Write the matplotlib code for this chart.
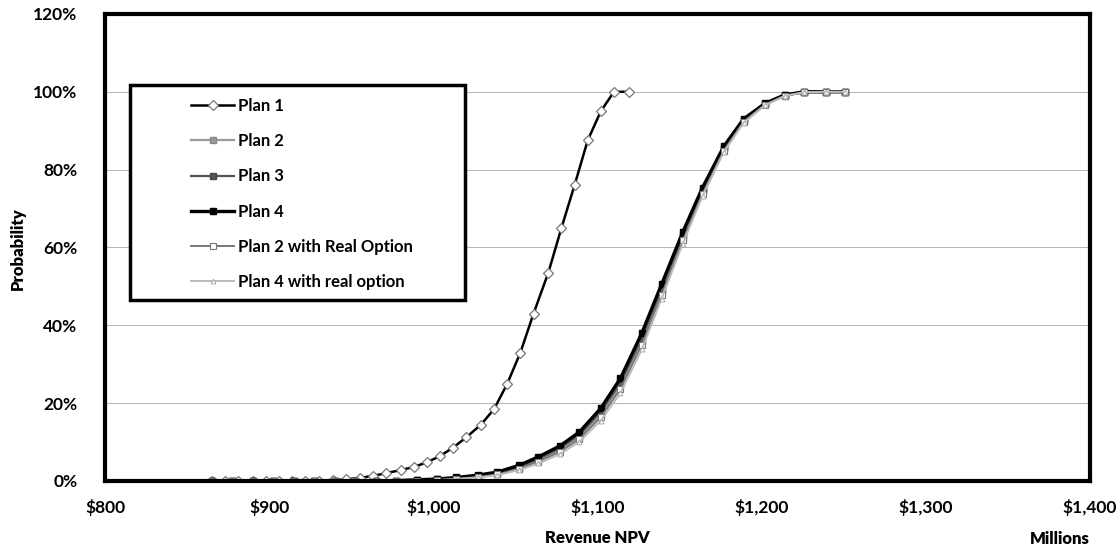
import matplotlib.pyplot as plt
from matplotlib.patches import Rectangle
from matplotlib.ticker import FuncFormatter, MultipleLocator

plt.rcParams['font.family'] = ['Lato', 'DejaVu Sans']

# Revenue NPV ($ millions) and cumulative probability (%)
plan1_x = [865, 873, 881, 890, 898, 906, 914, 922, 930, 939, 947, 955, 963, 971, 980,
           988, 996, 1004, 1012, 1020, 1029, 1037, 1045, 1053, 1061, 1070, 1078, 1086,
           1094, 1102, 1110, 1119]
plan1_y = [0, 0, 0, 0, 0, 0, 0, 0, 0.1, 0.2, 0.4, 0.8, 1.3, 2.0, 2.8, 3.6, 4.8, 6.4,
           8.6, 11.2, 14.5, 18.5, 25.0, 33.0, 43.0, 53.5, 65.0, 76.0, 87.5, 95.0, 100, 100]

plan_x = [865, 877, 890, 902, 915, 927, 940, 952, 965, 977, 990, 1002, 1014, 1027,
          1039, 1052, 1064, 1077, 1089, 1102, 1114, 1127, 1139, 1152, 1164, 1177,
          1189, 1202, 1214, 1226, 1239, 1251]
plan2_y = [0, 0, 0, 0, 0, 0, 0, 0, 0, 0.1, 0.2, 0.4, 0.7, 1.2, 1.9, 3.4, 5.4, 8.0,
           11.4, 17.2, 24.6, 36.0, 48.6, 62.5, 74.3, 85.2, 92.5, 96.8, 99.0, 99.9, 100, 100]
plan3_y = [0, 0, 0, 0, 0, 0, 0, 0, 0, 0.1, 0.2, 0.4, 0.8, 1.3, 2.0, 3.6, 5.7, 8.4,
           11.9, 17.8, 25.3, 36.8, 49.4, 63.2, 74.8, 85.6, 92.7, 96.9, 99.1, 100, 100, 100]
plan4_y = [0, 0, 0, 0, 0, 0, 0, 0, 0, 0.1, 0.3, 0.5, 0.9, 1.5, 2.3, 4.0, 6.2, 9.0,
           12.6, 18.7, 26.4, 38.0, 50.5, 64.0, 75.4, 86.0, 93.0, 97.0, 99.2, 100, 100, 100]
plan2_ro_y = [0, 0, 0, 0, 0, 0, 0, 0, 0, 0, 0.1, 0.3, 0.6, 1.0, 1.7, 3.1, 5.0, 7.5,
              10.8, 16.4, 23.7, 35.0, 47.8, 61.8, 73.8, 84.9, 92.3, 96.7, 99.0, 99.9, 100, 100]
plan4_ro_y = [0, 0, 0, 0, 0, 0, 0, 0, 0, 0, 0.1, 0.2, 0.5, 0.9, 1.5, 2.8, 4.5, 6.9,
              10.1, 15.5, 22.6, 33.8, 46.8, 61.0, 73.2, 84.5, 92.0, 96.5, 98.9, 99.9, 100, 100]

fig = plt.figure(figsize=(11.2, 5.58), dpi=100)
ax = fig.add_axes([0.094, 0.138, 0.879, 0.837])

ax.plot(plan1_x, plan1_y, color='black', lw=1.8, marker='D', ms=5,
        mfc='white', mec='#777777', mew=0.9, label='Plan 1')
ax.plot(plan_x, plan2_y, color='#999999', lw=1.6, marker='s', ms=4.5,
        mfc='#999999', mec='#888888', label='Plan 2')
ax.plot(plan_x, plan3_y, color='#555555', lw=1.6, marker='s', ms=4.5,
        mfc='#555555', mec='#444444', label='Plan 3')
ax.plot(plan_x, plan4_y, color='black', lw=2.4, marker='s', ms=5,
        mfc='black', mec='black', label='Plan 4')
ax.plot(plan_x, plan2_ro_y, color='#777777', lw=1.4, marker='s', ms=4.5,
        mfc='white', mec='#777777', mew=0.8, label='Plan 2 with Real Option')
ax.plot(plan_x, plan4_ro_y, color='#bbbbbb', lw=1.4, marker='^', ms=3.5,
        mfc='white', mec='#aaaaaa', mew=0.7, label='Plan 4 with real option')

ax.set_xlim(800, 1400)
ax.set_ylim(0, 120)
ax.xaxis.set_major_locator(MultipleLocator(100))
ax.yaxis.set_major_locator(MultipleLocator(20))
ax.xaxis.set_major_formatter(FuncFormatter(lambda v, p: f'${v:,.0f}'))
ax.yaxis.set_major_formatter(FuncFormatter(lambda v, p: f'{v:.0f}%'))
ax.tick_params(length=0, labelsize=12.5)
ax.tick_params(axis='x', pad=13)
ax.tick_params(axis='y', pad=20)
for lab in ax.get_xticklabels() + ax.get_yticklabels():
    lab.set_fontweight('bold')

ax.grid(axis='y', color='#b5b5b5', lw=0.7)
ax.set_axisbelow(True)
for s in ax.spines.values():
    s.set_linewidth(3)
    s.set_color('black')

ax.set_xlabel('Revenue NPV', fontsize=12, fontweight='heavy', labelpad=10)
fig.text(0.016, 0.555, 'Probability', fontsize=12, fontweight='heavy',
         rotation=90, ha='center', va='center')
fig.text(0.946, 0.025, 'Millions', fontsize=12, fontweight='heavy', ha='center')

# legend box with heavy border, drawn separately so it can be wider than the entries
box = Rectangle((0.025, 0.388), 0.34, 0.46, transform=ax.transAxes,
                facecolor='white', edgecolor='black', lw=2.5, zorder=5)
ax.add_patch(box)
leg = ax.legend(loc='upper left', bbox_to_anchor=(0.087, 0.82), frameon=False,
                borderpad=0, borderaxespad=0, labelspacing=1.15,
                handlelength=2.6, handletextpad=0.2, prop={'weight': 'bold', 'size': 12})
leg.set_zorder(6)

fig.savefig('out.png', dpi=100)
